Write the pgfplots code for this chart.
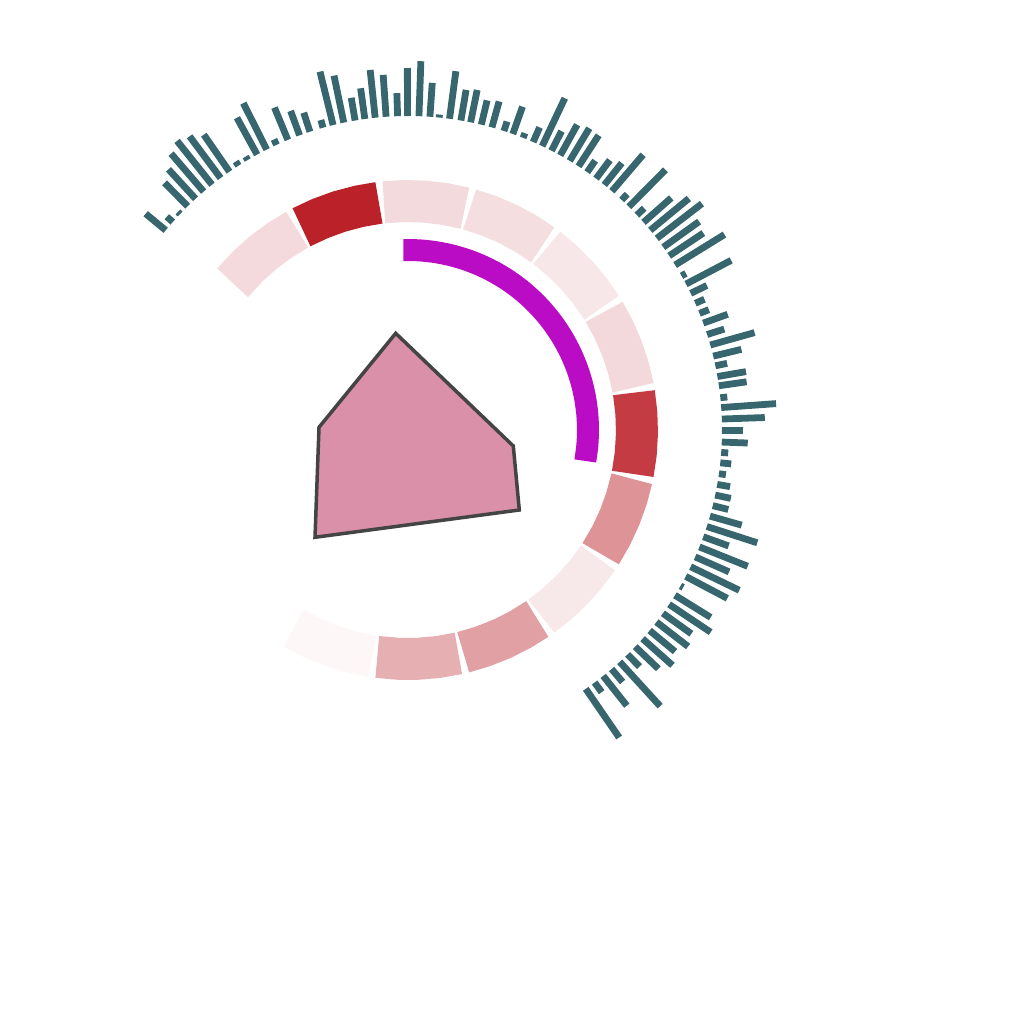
\documentclass[border=0pt]{standalone}
\usepackage{pgfplots}
\pgfplotsset{compat=1.18}
\usepackage{pgfplotstable}
\definecolor{barcol}{RGB}{55,102,110}
\definecolor{sA}{RGB}{244,218,220}
\definecolor{sB}{RGB}{187,33,41}
\definecolor{sC}{RGB}{243,218,220}
\definecolor{sD}{RGB}{245,222,224}
\definecolor{sE}{RGB}{247,231,232}
\definecolor{sF}{RGB}{243,217,219}
\definecolor{sG}{RGB}{196,59,68}
\definecolor{sH}{RGB}{222,147,150}
\definecolor{sI}{RGB}{247,232,233}
\definecolor{sJ}{RGB}{225,160,163}
\definecolor{sK}{RGB}{230,176,178}
\definecolor{sL}{RGB}{253,247,248}
\definecolor{magcol}{RGB}{185,12,196}
\definecolor{polyfill}{RGB}{218,144,168}
\definecolor{polyline}{RGB}{68,68,68}
\pgfplotstableread{
t l
140.5 26
138.52 8
136.54 3
134.56 33
132.58 40
130.6 50
128.62 56
126.64 52
124.66 45
122.68 5
120.7 4
118.72 42
116.74 52
114.76 6
112.5 35
110.2 26
108.2 20
105.7 8
103.8 55
101.8 48
99.7 23
97.9 31
96.0 48
94.0 42
91.9 23
90.1 48
88.0 55
86.0 34
84.3 3
82.4 48
80.3 31
78.5 33
76.5 25
74.5 27
72.2 10
70.5 29
68.5 5
66.5 16
64.7 53
62.8 22
61.0 35
59.0 38
57.1 37
55.2 14
53.2 23
51.3 28
49.5 48
47.1 8
45.3 52
43.2 10
41.4 37
39.5 50
37.6 57
35.6 44
33.7 41
31.7 58
29.4 5
27.7 51
25.8 18
23.8 10
21.8 10
19.9 26
17.7 18
15.7 46
13.6 29
11.8 12
9.8 29
8.1 28
5.9 7
4.1 55
2.0 43
-0.1 21
-2.2 26
-4.1 7
-6.0 11
-8.0 7
-9.98 13
-11.96 16
-13.94 16
-15.92 33
-17.9 53
-19.88 27
-21.86 52
-23.84 37
-25.82 54
-27.8 47
-29.78 3
-31.76 42
-33.74 50
-35.72 35
-37.7 40
-39.68 33
-41.66 40
-43.64 32
-45.62 17
-47.6 60
-49.58 17
-51.56 38
-53.54 12
-55.52 59
}\bars
\begin{document}
\begin{tikzpicture}
\begin{axis}[
  x=0.5pt, y=0.5pt,
  xmin=-408, xmax=616, ymin=-594, ymax=430,
  hide axis, clip=false,
]
\addplot[draw=none, forget plot] coordinates {(-408,-594) (616,430)};
% outer radial bars
\addplot[barcol, line width=3.4pt,
  quiver={u={\thisrow{l}*cos(\thisrow{t})}, v={\thisrow{l}*sin(\thisrow{t})}}]
  table[x expr={314*cos(\thisrow{t})}, y expr={314*sin(\thisrow{t})}] {\bars};
% ring segments
\addplot[sA, line width=21pt, data cs=polar] coordinates {(140,229) (134.27,229) (129.17,229) (124.06,229) (118.95,229)};
\addplot[sB, line width=21pt, data cs=polar] coordinates {(117.71,229) (112.60,229) (107.50,229) (102.39,229) (97.29,229)};
\addplot[sC, line width=21pt, data cs=polar] coordinates {(96.05,229) (90.94,229) (85.84,229) (80.73,229) (75.62,229)};
\addplot[sD, line width=21pt, data cs=polar] coordinates {(74.38,229) (69.27,229) (64.17,229) (59.06,229) (53.95,229)};
\addplot[sE, line width=21pt, data cs=polar] coordinates {(52.71,229) (47.60,229) (42.50,229) (37.39,229) (32.29,229)};
\addplot[sF, line width=21pt, data cs=polar] coordinates {(31.05,229) (25.94,229) (20.84,229) (15.73,229) (10.62,229)};
\addplot[sG, line width=21pt, data cs=polar] coordinates {(9.38,229) (4.27,229) (-0.83,229) (-5.94,229) (-11.05,229)};
\addplot[sH, line width=21pt, data cs=polar] coordinates {(-12.29,229) (-17.40,229) (-22.50,229) (-27.61,229) (-32.71,229)};
\addplot[sI, line width=21pt, data cs=polar] coordinates {(-33.95,229) (-39.06,229) (-44.16,229) (-49.27,229) (-54.38,229)};
\addplot[sJ, line width=21pt, data cs=polar] coordinates {(-55.62,229) (-60.73,229) (-65.83,229) (-70.94,229) (-76.05,229)};
\addplot[sK, line width=21pt, data cs=polar] coordinates {(-77.29,229) (-82.40,229) (-87.50,229) (-92.61,229) (-97.71,229)};
\addplot[sL, line width=21pt, data cs=polar] coordinates {(-98.95,229) (-104.06,229) (-109.16,229) (-114.27,229) (-120,229)};
% magenta arc
\addplot[magcol, line width=11pt, data cs=polar, smooth] coordinates {(91.5,180) (86.43,180) (81.36,180) (76.29,180) (71.22,180) (66.15,180) (61.08,180) (56.01,180) (50.94,180) (45.87,180) (40.8,180) (35.73,180) (30.66,180) (25.59,180) (20.52,180) (15.45,180) (10.38,180) (5.31,180) (0.24,180) (-4.83,180) (-9.9,180)};
% polygon
\addplot[fill=polyfill, draw=polyline, line width=1.75pt, line join=miter] coordinates {(-12.3,96.7) (105.3,-16) (111.3,-80) (-93,-107.3) (-89,2.7)} -- cycle;
\end{axis}
\end{tikzpicture}
\end{document}
